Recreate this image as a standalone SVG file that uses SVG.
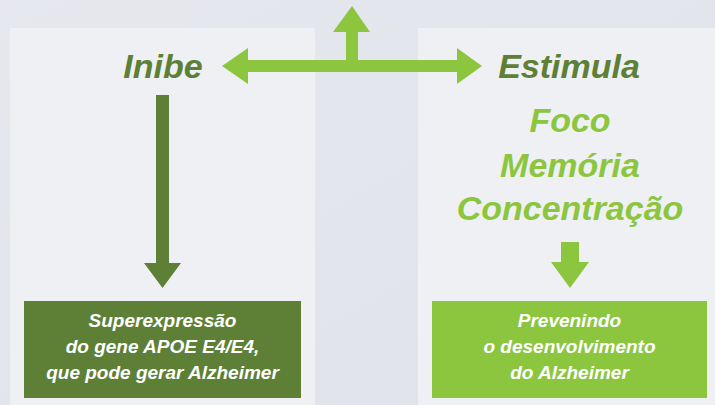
<svg xmlns="http://www.w3.org/2000/svg" width="715" height="405" viewBox="0 0 715 405">
<style>
.h{font-family:"Liberation Sans",Arial,sans-serif;font-weight:bold;font-style:italic;font-size:34px;text-anchor:middle}
.b{font-family:"Liberation Sans",Arial,sans-serif;font-weight:bold;font-style:italic;font-size:19px;text-anchor:middle;fill:#ffffff}
.dk{fill:#5e7f36}
.lt{fill:#8cc63f}
</style>
<defs>
<linearGradient id="bg" x1="0" y1="0" x2="1" y2="1">
<stop offset="0" stop-color="#e6e8ee"/>
<stop offset="1" stop-color="#dfe2ea"/>
</linearGradient>
</defs>
<rect width="715" height="405" fill="url(#bg)"/>
<rect x="10" y="28" width="305" height="377" fill="#eef0f4"/>
<rect x="418" y="28" width="297" height="377" fill="#eef0f4"/>
<g id="connectors">
<polygon class="lt" points="352,6 370,32 358,32 358,60 457,60 457,48 482,66 457,84 457,72 248,72 248,84 222,66 248,48 248,60 346,60 346,32 333,32"/>
<polygon class="dk" points="156,95 169,95 169,263 181,263 162.5,288 144,263 156,263"/>
<polygon class="lt" points="561,242 579,242 579,262 589,262 570,288 551,262 561,262"/>
</g>
<g id="inibe">
<text class="h dk" x="163" y="78">Inibe</text>
</g>
<g id="estimula">
<text class="h dk" x="569" y="78">Estimula</text>
</g>
<g id="beneficios">
<text class="h lt" x="570" y="132" font-size="33">Foco</text>
<text class="h lt" x="570" y="177" font-size="33">Memória</text>
<text class="h lt" x="570" y="220" font-size="33">Concentração</text>
</g>
<g id="superexpressao">
<rect class="dk" x="24" y="301" width="277" height="97"/>
<text class="b" x="162.5" y="327">Superexpressão</text>
<text class="b" x="162.5" y="353">do gene APOE E4/E4,</text>
<text class="b" x="162.5" y="379">que pode gerar Alzheimer</text>
</g>
<g id="prevenindo">
<rect class="lt" x="432" y="301" width="275" height="97"/>
<text class="b" x="569.5" y="327">Prevenindo</text>
<text class="b" x="569.5" y="353">o desenvolvimento</text>
<text class="b" x="569.5" y="379">do Alzheimer</text>
</g>
</svg>
